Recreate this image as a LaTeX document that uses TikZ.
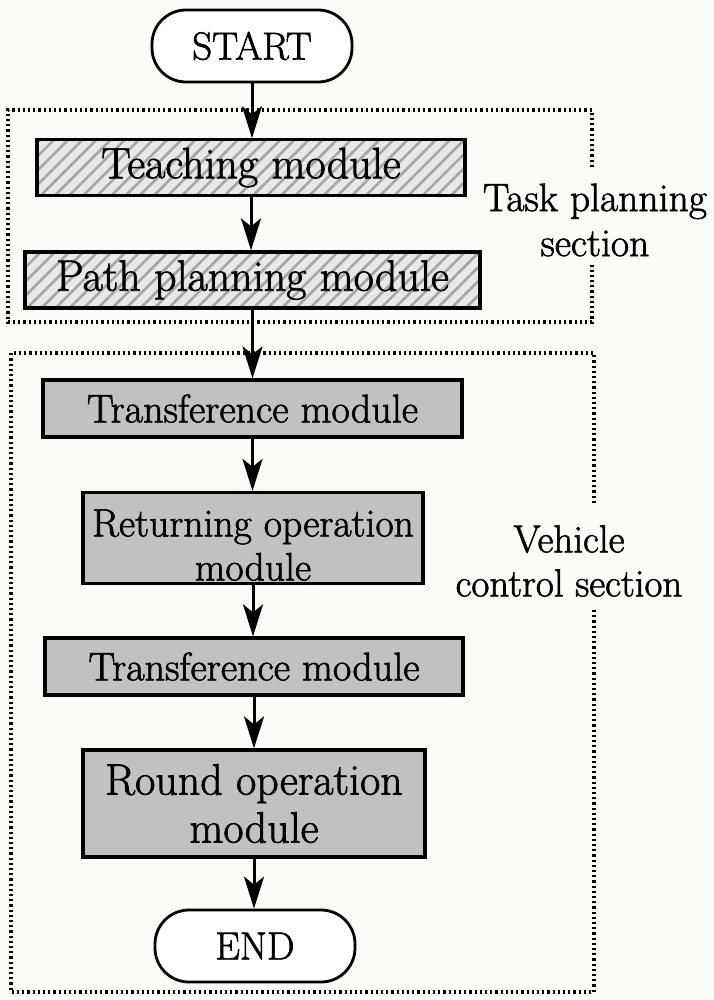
\documentclass[tikz,border=0pt]{standalone}
\usepackage{fontspec}
\setmainfont{Latin Modern Roman}[FakeBold=1.6]
\usetikzlibrary{arrows.meta,patterns.meta}
\definecolor{bgcol}{RGB}{250,251,247}
\definecolor{boxgray}{RGB}{192,194,192}
\definecolor{hatchbg}{RGB}{232,233,230}
\definecolor{hatchline}{RGB}{165,166,163}
\tikzset{
  px/.style={x=0.5pt,y=-0.5pt},
  terminal/.style={draw,line width=1.4pt,rounded corners=17pt,fill=white,
    minimum width=100pt,minimum height=36pt,inner sep=0pt,
    font=\fontsize{19.5}{22}\selectfont},
  hatchbox/.style={draw,line width=1.6pt,inner sep=0pt,
    preaction={fill=hatchbg},
    pattern={Lines[angle=45,distance=5pt,line width=1.3pt]},pattern color=hatchline},
  graybox/.style={draw,line width=1.6pt,fill=boxgray,inner sep=0pt,align=center},
  flow/.style={line width=1.5pt,-{Stealth[length=16pt,width=10pt,inset=4pt]}},
  frame/.style={line width=1.7pt,dash pattern=on 1.1pt off 1.5pt},
  sectlabel/.style={align=center,inner sep=0pt}
}
\begin{document}
\begin{tikzpicture}[px]
\fill[bgcol] (0,0) rectangle (713,1000);
\useasboundingbox (0,0) rectangle (713,1000);

% section frames
\draw[frame] (592,167) -- (592,110) -- (8,110) -- (8,322) -- (592,322) -- (592,265);
\draw[frame] (594,503) -- (594,353) -- (11,353) -- (11,992) -- (594,992) -- (594,607);

% nodes
\node[terminal] (start) at (252,46) {START};
\node[hatchbox,minimum width=214pt,minimum height=28pt,font=\fontsize{22}{24}\selectfont] (teach) at (251,167.5) {Teaching module};
\node[hatchbox,minimum width=227.5pt,minimum height=28pt,font=\fontsize{22}{24}\selectfont] (path) at (252.5,280) {Path planning module};
\node[graybox,minimum width=209.5pt,minimum height=28.5pt,font=\fontsize{20}{22}\selectfont] (trans1) at (252.5,408.5) {Transference module};
\node[graybox,minimum width=170pt,minimum height=45pt,font=\fontsize{19.8}{23.5}\selectfont] (ret) at (253,538) {\raisebox{-5.5pt}[\height][\depth]{\begin{tabular}{@{}c@{}}Returning operation\\[-1.5pt]module\end{tabular}}};
\node[graybox,minimum width=209pt,minimum height=28.5pt,font=\fontsize{20}{22}\selectfont] (trans2) at (254,666.5) {Transference module};
\node[graybox,minimum width=171pt,minimum height=53.5pt,font=\fontsize{22}{24}\selectfont] (round) at (254,803.5) {Round operation\\module};
\node[terminal] (end) at (255,946) {END};

\node[sectlabel,font=\fontsize{19.8}{22.5}\selectfont] (tps) at (595,220) {Task planning\\section};
\node[sectlabel,font=\fontsize{19.5}{22}\selectfont] (vcs) at (569,561) {Vehicle\\control section};

% connectors
\draw[flow] (start.south) -- (start.south |- teach.north);
\draw[flow] (teach.south) -- (teach.south |- path.north);
\draw[flow] (path.south) -- (path.south |- trans1.north);
\draw[flow] (trans1.south) -- (trans1.south |- ret.north);
\draw[flow] (ret.south) -- (ret.south |- trans2.north);
\draw[flow] (trans2.south) -- (trans2.south |- round.north);
\draw[flow] (round.south) -- (round.south |- end.north);
\end{tikzpicture}
\end{document}
